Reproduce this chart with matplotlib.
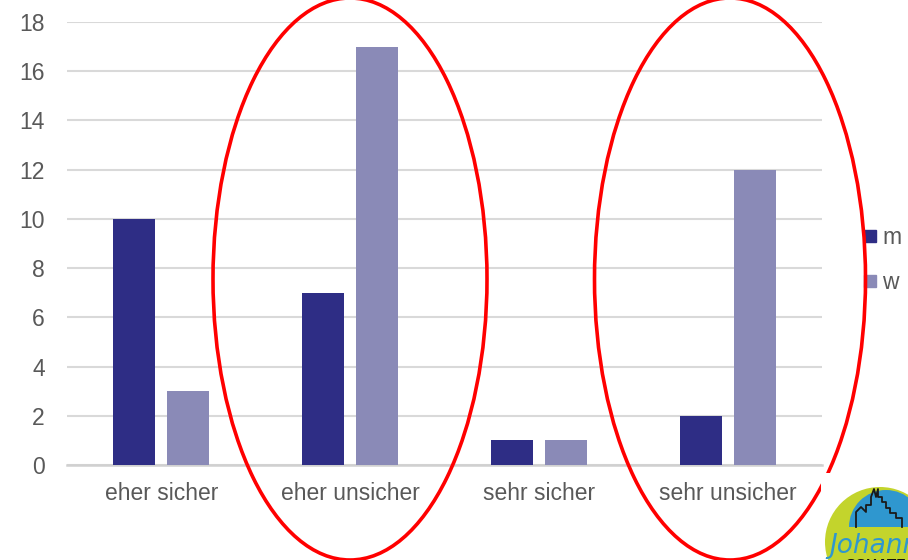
import matplotlib
matplotlib.use("Agg")
import matplotlib.pyplot as plt
import numpy as np
from matplotlib.patches import Ellipse, Circle, Wedge, Rectangle
from matplotlib.lines import Line2D

plt.rcParams['font.family'] = ['Liberation Sans', 'DejaVu Sans']

categories = ["eher sicher", "eher unsicher", "sehr sicher", "sehr unsicher"]
m_values = [10, 7, 1, 2]
w_values = [3, 17, 1, 12]
series_names = ["m", "w"]
yticks = [0, 2, 4, 6, 8, 10, 12, 14, 16, 18]

c_m = "#2e2d85"
c_w = "#8a8ab7"
txt = "#595959"
W, H = 908, 560

fig = plt.figure(figsize=(W / 100, H / 100), dpi=100)
ax = fig.add_axes([67 / W, (H - 465) / H, 755 / W, 443 / H])

x = np.arange(len(categories))
bw = 0.222
off = 0.143
ax.bar(x - off, m_values, bw, color=c_m, zorder=3)
ax.bar(x + off, w_values, bw, color=c_w, zorder=3)

ax.set_xlim(-0.5, len(categories) - 0.5)
ax.set_ylim(0, 18)
ax.set_yticks(yticks)
ax.set_yticklabels([str(v) for v in yticks])
ax.set_xticks(x)
ax.set_xticklabels(categories)
ax.tick_params(axis='both', length=0, labelsize=16.5, colors=txt)
ax.tick_params(axis='y', pad=16)
ax.tick_params(axis='x', pad=12)
ax.grid(axis='y', color="#d9d9d9", linewidth=1.5, zorder=0)
for s in ['top', 'right', 'left']:
    ax.spines[s].set_visible(False)
ax.spines['bottom'].set_color("#d0d0d0")
ax.spines['bottom'].set_linewidth(1.8)

handles = [Line2D([], [], marker='s', linestyle='none', markersize=8, color=c_m),
           Line2D([], [], marker='s', linestyle='none', markersize=8, color=c_w)]
leg = fig.legend(handles, series_names, loc='upper left',
                 bbox_to_anchor=(863 / W, 1 - 226 / H), frameon=False,
                 fontsize=16.5, labelcolor=txt, handlelength=0.6,
                 handletextpad=0.25, labelspacing=0.95, borderpad=0, borderaxespad=0)

# overlay in pixel coordinates
ov = fig.add_axes([0, 0, 1, 1], zorder=10)
ov.set_xlim(0, W)
ov.set_ylim(H, 0)
ov.axis('off')
ov.patch.set_alpha(0)

ov.add_patch(Ellipse((350, 279), 274, 562, fill=False, edgecolor="#ff0000", linewidth=2.6))
ov.add_patch(Ellipse((730, 279), 271, 562, fill=False, edgecolor="#ff0000", linewidth=2.6))

# logo area (white background + badge)
ov.add_patch(Rectangle((821, 473), 100, 100, facecolor="white", edgecolor="none"))
ov.add_patch(Circle((880, 542), 55, facecolor="#c3d42c", edgecolor="none"))
ov.add_patch(Wedge((886, 527), 37, 180, 360, facecolor="#2f97cf", edgecolor="none"))
# simple skyline outline
sky_x = [856, 856, 861, 866, 866, 871, 871, 874, 876, 878, 878, 882, 882, 886, 886, 890, 890, 896, 896, 902, 902]
sky_y = [527, 512, 507, 512, 505, 505, 497, 489, 497, 489, 497, 497, 502, 502, 508, 508, 513, 513, 518, 518, 527]
ov.plot(sky_x, sky_y, color="#1a1a1a", linewidth=1.3)
ov.text(829, 553, "Johann", color="#2f97cf", fontsize=19, fontstyle='italic',
        family=['DejaVu Sans'], ha='left', va='baseline')
ov.text(846, 558, "SCHATZ", color="#111111", fontsize=11, fontweight='bold',
        ha='left', va='top')

fig.savefig("out.png", dpi=100)
